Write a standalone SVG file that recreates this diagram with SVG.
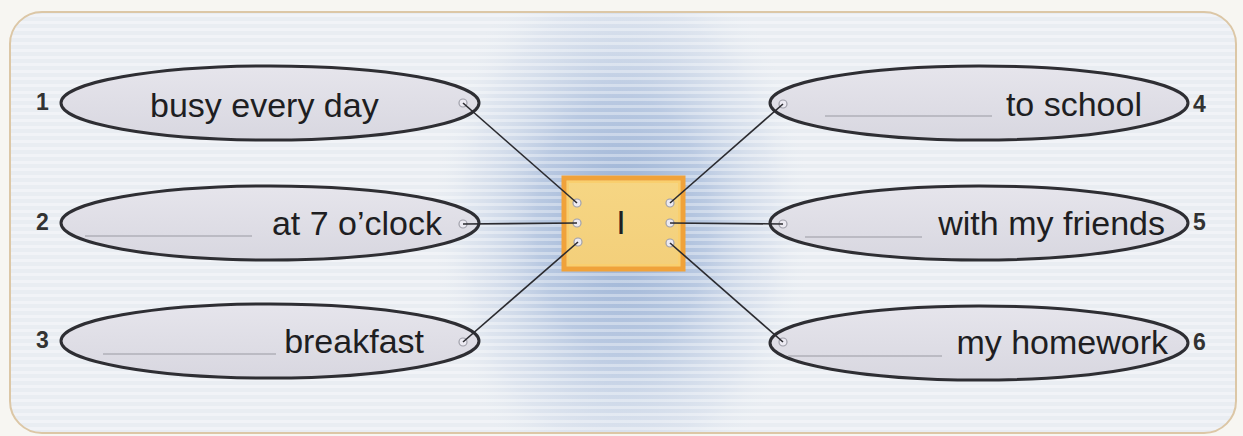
<svg xmlns="http://www.w3.org/2000/svg" width="1243" height="436" viewBox="0 0 1243 436">
<defs>
<pattern id="stripes" width="10" height="7" patternUnits="userSpaceOnUse">
<rect width="10" height="3" y="0" fill="#ffffff" opacity="0.35"/>
</pattern>
<radialGradient id="band" gradientUnits="userSpaceOnUse" cx="622" cy="224" r="200" gradientTransform="translate(622 224) scale(0.95 1.4) translate(-622 -224)">
<stop offset="0" stop-color="#8fa9d0" stop-opacity="0.95"/>
<stop offset="0.45" stop-color="#a9bddc" stop-opacity="0.75"/>
<stop offset="0.8" stop-color="#c9d5e8" stop-opacity="0.35"/>
<stop offset="1" stop-color="#e6ebf2" stop-opacity="0"/>
</radialGradient>
<linearGradient id="ellfill" x1="0" y1="0" x2="0" y2="1">
<stop offset="0" stop-color="#e6e5ec"/>
<stop offset="1" stop-color="#d8d7e0"/>
</linearGradient>
<linearGradient id="boxfill" x1="0" y1="0" x2="0" y2="1">
<stop offset="0" stop-color="#f6d684"/>
<stop offset="1" stop-color="#f3cf7a"/>
</linearGradient>
<clipPath id="panel"><rect x="10" y="12" width="1226" height="421" rx="32"/></clipPath>
</defs>
<style>
.ell{fill:url(#ellfill);stroke:#2e2e33;stroke-width:3}
.txt{font-family:"Liberation Sans",Arial,sans-serif;font-size:34px;fill:#1e1e22}
.num{font-family:"Liberation Sans",Arial,sans-serif;font-size:23px;font-weight:bold;fill:#333}
.blank{stroke:#9a9aa2;stroke-width:1.2}
.dot{fill:#eceaf2;stroke:#a0a0aa;stroke-width:1.2}
.conn{stroke:#2b2b30;stroke-width:1.6;fill:none}
</style>
<rect width="1243" height="436" fill="#f7f6f2"/>
<g clip-path="url(#panel)">
<rect x="10" y="12" width="1226" height="421" fill="#e9edf2"/>
<rect x="10" y="12" width="1226" height="421" fill="url(#band)"/>
<rect x="10" y="12" width="1226" height="421" fill="url(#stripes)"/>
</g>
<rect x="10" y="12" width="1226" height="421" rx="32" fill="none" stroke="#dcc7a6" stroke-width="2"/>

<g id="node-center">
<rect x="564" y="178" width="119" height="91" fill="url(#boxfill)" stroke="#f0a23a" stroke-width="5"/>
<rect x="568" y="182" width="111" height="83" fill="none" stroke="#f9cf6e" stroke-width="2"/>
<text class="txt" x="621" y="234" text-anchor="middle">I</text>
<circle class="dot" cx="577" cy="203" r="4"/>
<circle class="dot" cx="577" cy="223" r="4"/>
<circle class="dot" cx="578" cy="242" r="4"/>
<circle class="dot" cx="670" cy="203" r="4"/>
<circle class="dot" cx="670" cy="223" r="4"/>
<circle class="dot" cx="670" cy="243" r="4"/>
</g>

<g id="node-1">
<ellipse class="ell" cx="270" cy="103" rx="209" ry="37"/>
<circle class="dot" cx="463" cy="103" r="4"/>
<text class="txt" x="150" y="117">busy every day</text>
<text class="num" x="36" y="110">1</text>
</g>
<g id="node-2">
<ellipse class="ell" cx="270" cy="223" rx="209" ry="37"/>
<circle class="dot" cx="463" cy="224" r="4"/>
<line class="blank" x1="85" y1="236" x2="252" y2="236"/>
<text class="txt" x="442" y="235" text-anchor="end">at 7 o’clock</text>
<text class="num" x="36" y="230">2</text>
</g>
<g id="node-3">
<ellipse class="ell" cx="270" cy="341" rx="209" ry="37"/>
<circle class="dot" cx="463" cy="342" r="4"/>
<line class="blank" x1="103" y1="354" x2="276" y2="354"/>
<text class="txt" x="424" y="353" text-anchor="end">breakfast</text>
<text class="num" x="36" y="348">3</text>
</g>
<g id="node-4">
<ellipse class="ell" cx="979" cy="103" rx="209" ry="37"/>
<circle class="dot" cx="783" cy="104" r="4"/>
<line class="blank" x1="825" y1="116" x2="992" y2="116"/>
<text class="txt" x="1142" y="116" text-anchor="end">to school</text>
<text class="num" x="1193" y="112">4</text>
</g>
<g id="node-5">
<ellipse class="ell" cx="979" cy="223" rx="209" ry="37"/>
<circle class="dot" cx="783" cy="224" r="4"/>
<line class="blank" x1="805" y1="237" x2="922" y2="237"/>
<text class="txt" x="1165" y="235" text-anchor="end">with my friends</text>
<text class="num" x="1193" y="230">5</text>
</g>
<g id="node-6">
<ellipse class="ell" cx="979" cy="343" rx="209" ry="37"/>
<circle class="dot" cx="783" cy="342" r="4"/>
<line class="blank" x1="788" y1="356" x2="942" y2="356"/>
<text class="txt" x="1168" y="354" text-anchor="end">my homework</text>
<text class="num" x="1193" y="350">6</text>
</g>

<g id="connectors">
<line class="conn" x1="463" y1="103" x2="577" y2="203"/>
<line class="conn" x1="463" y1="224" x2="577" y2="223"/>
<line class="conn" x1="463" y1="342" x2="578" y2="242"/>
<line class="conn" x1="783" y1="104" x2="670" y2="203"/>
<line class="conn" x1="783" y1="224" x2="670" y2="223"/>
<line class="conn" x1="783" y1="342" x2="670" y2="243"/>
</g>
</svg>
